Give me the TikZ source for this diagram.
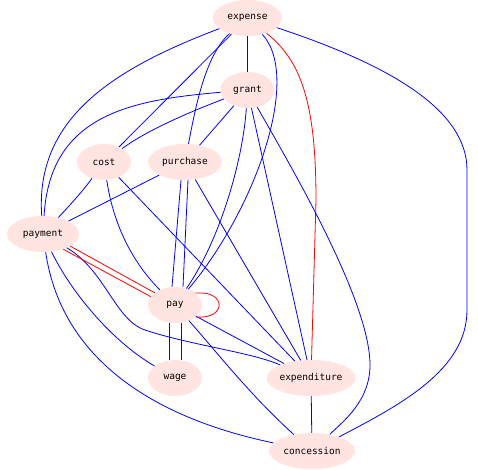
\documentclass[tikz,border=0pt]{standalone}
\usepackage{fontspec}
\setmonofont{DejaVu Sans Mono}
\usepackage{tikz}
\usetikzlibrary{shapes.geometric}
\definecolor{wordpink}{RGB}{255,228,225}

\begin{document}
\begin{tikzpicture}[x=1pt,y=-1pt,
    word/.style={ellipse, fill=wordpink, inner sep=0pt, minimum height=36pt,
      font=\ttfamily\fontsize{9.5}{10}\selectfont},
    bedge/.style={draw=blue, line width=0.8pt},
    redge/.style={draw=red, line width=0.8pt}]
      \useasboundingbox (0,0) rectangle (478,469);
      \node[word, minimum width=69pt] (expense) at (247.5,18) {expense}; % top
      \node[word, minimum width=54pt] (grant) at (247.5,90) {grant};
      \node[word, minimum width=54pt] (cost) at (104,162) {cost};
      \node[word, minimum width=74pt] (purchase) at (185,162) {purchase};
      \node[word, minimum width=72pt] (payment) at (43,234) {payment}; % left
      \node[word, minimum width=54pt] (pay) at (175,305) {pay};
      \node[word, minimum width=54pt] (wage) at (175,378) {wage};
      \node[word, minimum width=89pt] (expenditure) at (311,378) {expenditure};
      \node[word, minimum width=86pt] (concession) at (312,451) {concession}; % bottom
      % expense
      \draw[bedge] (expense) .. controls (110,70) and (35,120) .. (payment);
      \draw[bedge] (expense) -- (cost);
      \draw[bedge] (expense) .. controls (205,55) and (195,110) .. (purchase);
      \draw[bedge] (expense) -- (grant);
      \draw[bedge] (expense) .. controls (302,78) and (255,210) .. (pay);
      \draw[bedge] (expense) .. controls (390,65) and (467,110) .. (467,170) -- (467,310)
        .. controls (467,370) and (400,405) .. (concession);
      \draw[redge] (expense) .. controls (300,60) and (316,100) .. (316,200) -- (expenditure);
      % grant
      \draw[bedge] (grant) .. controls (130,100) and (50,115) .. (payment);
      \draw[bedge] (grant) .. controls (200,108) and (150,128) .. (cost);
      \draw[bedge] (grant) -- (purchase);
      \draw[bedge] (grant) .. controls (243,160) and (220,240) .. (pay);
      \draw[bedge] (grant) -- (expenditure);
      \draw[bedge] (grant) .. controls (290,165) and (370,300) .. (370,365)
        .. controls (370,400) and (345,420) .. (concession);
      % cost, purchase
      \draw[bedge] (cost) .. controls (82,192) and (70,205) .. (payment);
      \draw[bedge] (cost) .. controls (115,235) and (140,270) .. (pay);
      \draw[bedge] (cost) -- (expenditure);
      \draw[bedge] (purchase) -- (payment);
      \draw[bedge] ([xshift=-4pt]purchase.south) -- ([xshift=-3pt]pay.north);
      \draw[bedge] ([xshift=3pt]purchase.south) -- ([xshift=8pt]pay.north);
      \draw[bedge] (purchase) -- (expenditure);
      % payment
      \draw[bedge] (payment) .. controls (70,290) and (110,340) .. (wage);
      \draw[bedge] (payment) .. controls (105,270) and (115,320) .. (145,330)
        .. controls (190,345) and (250,352) .. (expenditure);
      \draw[bedge] (payment) .. controls (60,350) and (140,415) .. (concession);
      \draw[redge] (payment.-37) -- (pay.161);
      \draw[redge] (payment.-24) -- (pay.149);
      % pay
      \draw[bedge] ([xshift=-6pt]pay.south) -- ([xshift=-6pt]wage.north);
      \draw[bedge] ([xshift=6pt]pay.south) -- ([xshift=6pt]wage.north);
      \draw[bedge] (pay) -- (expenditure);
      \draw[bedge] (pay) .. controls (215,350) and (250,395) .. (concession);
      \draw[redge] (pay.30) .. controls (227,290) and (227,320) .. (pay.-30); % loop
      \draw[bedge] (expenditure) -- (concession);
    \end{tikzpicture}
\end{document}
